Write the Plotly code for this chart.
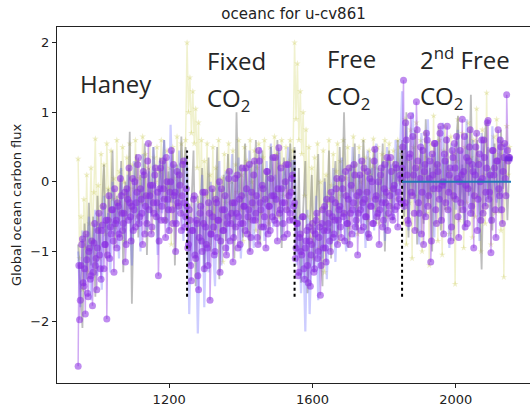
import plotly.graph_objects as go

# ---------------- data ----------------
seg_starts = [946, 1250, 1550, 1850]
seg_ends = [1250, 1550, 1850, 2151]

# purple series, first sampling (years 946, 950, ...)
p_h = [-2.65, -1.98, -1.2, -0.82, -1.5, -1.9, -1.12, -1.65, -0.95, -1.35,
       -1.78, -0.88, -1.2, -1.55, -0.7, -1.05, -1.4, -0.62, -1.25, -0.9,
       -1.97, -0.55, -1.1, -0.75, -0.4, -1.3, -0.6, -0.95, -0.35, -0.8,
       -0.2, -0.7, -0.45, -1.15, -0.1, -0.55, -0.3, -0.85, 0.05, -0.4,
       -0.65, -0.15, 0.35, -0.5, -0.25, -0.9, 0.1, -0.35, -0.6, 0.55,
       -0.2, -0.75, -0.05, -0.45, 0.2, -0.3, -1.35, -0.1, -0.55, 0.3,
       -0.25, -0.8, 0.0, -0.4, -0.15, 0.45, -0.6, -0.2, -1.0, 0.15,
       -0.35, -0.05, -0.7, 0.25, -0.3, -0.5]
p_f = [-0.35, -0.9, -0.55, -1.42, -0.7, -0.2, -1.1, -0.6, -1.55, -0.45,
       -0.85, -0.15, -1.25, -0.65, -0.95, -0.3, -1.7, -0.75, -0.5, -1.05,
       -0.25, -0.8, -0.55, -1.3, -0.1, -0.7, -0.4, -0.95, -0.6, 0.05,
       -0.85, -0.45, -1.15, -0.3, -0.65, 0.1, -0.5, -0.9, -0.2, -0.6,
       -0.35, 0.2, -0.75, -0.4, -1.0, -0.15, -0.55, 0.3, -0.45, -0.8,
       0.45, -0.3, -0.65, -0.1, -0.5, -0.95, 0.15, -0.35, -0.7, -0.2,
       0.35, -0.55, -0.25, -0.85, 0.49, -0.4, -0.1, -0.6, -0.3, 0.25,
       -0.75, -0.2, -0.45, 0.05, -0.55]
p_r = [-0.3, -0.95, -0.6, -1.3, -0.75, -1.05, -0.5, -1.4, -0.85, -1.2,
       -0.65, -1.5, -0.9, -0.7, -1.25, -0.55, -1.1, -0.8, -1.63, -0.6,
       -0.95, -0.35, -1.15, -0.7, -0.45, -1.0, -0.25, -0.8, -0.55, -0.1,
       -0.9, -0.4, -0.65, 0.05, -0.5, -0.85, -0.2, -0.6, 0.2, -0.45,
       -0.75, -0.3, 0.1, -0.55, -1.05, -0.15, -0.4, 0.3, -0.65, -0.25,
       -0.5, 0.15, -0.8, -0.35, 0.0, -0.6, 0.47, -0.2, -0.45, -0.9,
       0.1, -0.3, -0.55, 0.25, -0.15, -0.7, -0.35, 0.35, -0.5, -0.1,
       -0.4, 0.2, -0.65, -0.25, 0.05]
p_s = [0.2, 1.46, -0.3, 0.6, -0.55, 0.35, 0.95, -0.2, 0.1, -0.7,
       1.15, 0.3, -0.45, 0.5, -0.15, -0.9, 0.25, 0.7, -0.35, 0.05,
       -1.15, 0.4, -0.1, 0.55, -0.6, 0.15, -0.25, 0.8, -0.05, -0.75,
       0.3, 0.6, -0.4, 0.1, -0.85, 0.45, -0.2, 0.2, 0.65, -0.5,
       0.0, -0.3, 0.9, 0.15, -0.65, 0.35, -0.1, 0.5, -0.45, 0.25,
       -0.95, 0.1, 0.7, -0.25, 0.4, -0.55, 0.05, 0.6, -0.35, 0.2,
       0.88, -0.15, -1.02, 0.45, 0.1, -0.4, 0.3, 0.75, -0.2, 0.5,
       -0.6, 0.35, 0.05, 1.25, 0.3, 0.35]

# purple series, second sampling (years 948, 952, ...)
p2_h = [-1.2, -1.7, -0.9, -1.45, -1.25, -0.75, -1.6, -1.0, -1.4, -0.85,
        -1.3, -0.6, -1.1, -0.95, -0.45, -1.25, -0.7, -0.35, -0.9, -0.55,
        -1.05, -0.2, -0.65, -0.4, -0.85, -0.1, -0.55, -0.3, -0.75, 0.05,
        -0.45, -0.6, -0.15, -0.9, -0.25, 0.2, -0.5, -0.35, -0.7, 0.0,
        -0.3, 0.25, -0.6, -0.1, -0.45, 0.15, -0.75, -0.2, 0.3, -0.4,
        -0.05, -0.65, -0.3, 0.1, -0.5, -0.15, -0.85, 0.2, -0.35, -0.1,
        -0.55, 0.35, -0.25, -0.7, 0.0, -0.4, 0.25, -0.15, -0.6, -0.3,
        0.1, -0.45, -0.2, 0.3, -0.65, -0.1]
p2_f = [-0.95, -0.4, -1.2, -0.7, -0.25, -1.05, -0.55, -1.35, -0.8, -0.35,
        -1.0, -0.6, -0.15, -0.9, -1.2, -0.45, -0.75, -0.1, -0.65, -1.0,
        -0.3, -0.55, 0.0, -0.85, -0.4, -0.7, -0.2, -1.05, -0.5, 0.15,
        -0.6, -0.3, -0.8, 0.05, -0.45, -0.95, -0.25, -0.6, 0.2, -0.35,
        -0.7, -0.1, -0.5, 0.25, -0.8, -0.3, 0.1, -0.55, -0.2, -0.9,
        0.3, -0.4, -0.05, -0.65, -0.25, 0.15, -0.75, -0.35, 0.05, -0.5,
        -0.2, 0.35, -0.6, -0.1, -0.45, 0.2, -0.3, -0.8, 0.0, -0.4,
        0.25, -0.55, -0.15, 0.1, -0.35]
p2_r = [-1.1, -0.6, -1.35, -0.8, -1.0, -0.5, -1.25, -0.95, -0.7, -1.45,
        -0.85, -1.05, -0.6, -1.3, -0.75, -0.45, -1.0, -0.65, -1.2, -0.4,
        -0.7, -0.95, -0.25, -0.6, -0.85, -0.15, -0.5, -0.75, -0.3, 0.05,
        -0.55, -0.35, -0.8, -0.1, -0.45, 0.15, -0.6, -0.25, -0.9, -0.05,
        -0.4, 0.25, -0.65, -0.2, -0.45, 0.1, -0.7, -0.3, 0.2, -0.5,
        -0.15, -0.75, 0.05, -0.35, -0.6, 0.3, -0.25, -0.5, 0.0, -0.4,
        0.2, -0.65, -0.1, -0.3, 0.35, -0.45, -0.2, 0.15, -0.55, -0.05,
        0.25, -0.35, -0.15, 0.1, -0.3]
p2_s = [0.5, -0.35, 0.85, 0.1, -0.6, 0.4, -0.15, 0.65, -0.45, 0.2,
        0.75, -0.3, 0.05, -0.75, 0.45, 0.15, -0.5, 0.6, -0.2, 0.3,
        -0.85, 0.1, 0.55, -0.4, 0.25, -0.1, 0.7, -0.55, 0.0, 0.4,
        -0.3, 0.8, -0.15, 0.2, -0.65, 0.35, 0.55, -0.25, 0.05, -0.8,
        0.45, 0.1, -0.4, 0.65, -0.05, -0.6, 0.3, 0.75, -0.35, 0.15,
        -0.2, 0.5, -0.7, 0.25, 0.0, 0.6, -0.45, 0.35, -0.15, 0.85,
        -0.25, 0.1, -0.55, 0.45, 0.2, -0.8, 0.3, -0.1, 0.6, -0.4,
        0.15, 0.55, -0.2, 0.45, 0.35]

# olive series (4-yr sampling)
o_h = [0.33, -1.1, -0.5, -1.55, -0.25, -0.95, 0.1, -1.3, -0.6, 0.2,
       -0.85, -0.15, 0.62, -0.7, -0.05, -1.1, 0.4, -0.35, 0.25, -0.75,
       0.55, -0.1, -0.55, 0.45, -0.25, 0.05, -0.65, 0.6, -0.3, 0.15,
       -0.45, 0.5, 0.0, -0.85, 0.35, -0.2, 0.55, -0.4, 0.25, -0.1,
       0.6, -0.5, 0.3, 0.05, -0.3, 0.65, -0.2, 0.4, -0.6, 0.2,
       0.55, -0.15, -0.7, 0.35, 0.0, 0.5, -0.4, 0.15, 0.6, -0.25,
       0.3, -0.55, 0.45, -0.1, 0.2, -0.9, 0.5, 0.05, -0.35, 0.65,
       0.1, -0.2, 0.55, -0.45, 0.3, 0.6]
o_f = [2.0, 1.0, 1.5, 0.7, 1.3, 0.55, 1.05, 0.2, 0.85, -0.3,
       0.6, -0.6, 0.3, -0.2, 0.55, -0.9, 0.1, -0.45, 0.5, -0.7,
       0.2, -0.25, 0.6, -0.55, 0.05, -1.15, 0.4, -0.3, 0.15, 0.55,
       -0.5, 0.0, 0.45, -0.65, 0.25, -0.15, 0.6, -0.4, 0.1, -0.85,
       0.5, -0.2, 0.3, -0.55, 0.6, 0.0, -0.35, 0.45, -0.7, 0.2,
       0.55, -0.1, -0.45, 0.35, 0.6, -0.25, 0.1, -0.6, 0.5, 0.05,
       -0.3, 0.65, -0.15, 0.4, -0.5, 0.25, 0.6, -0.2, 0.0, 0.5,
       -0.4, 0.3, 0.6, -0.1, 0.45]
o_r = [2.0, 0.9, 1.7, 0.6, 1.3, 0.4, 1.0, -0.2, 0.75, -0.5,
       0.5, -0.8, 0.2, -1.1, 0.35, -0.6, 0.55, -0.95, 0.0, -0.4,
       0.45, -1.3, 0.1, -0.3, 0.6, -0.7, -0.05, 0.4, -0.55, 0.15,
       0.55, -0.85, 0.3, -0.2, 0.6, -0.45, 0.05, 0.5, -0.65, 0.2,
       -0.1, 0.65, -0.35, 0.25, -0.75, 0.5, 0.0, -0.3, 0.6, -0.15,
       0.35, -0.55, 0.45, 0.1, -0.25, 0.62, -0.4, 0.2, 0.5, -0.6,
       0.05, 0.4, -0.2, 0.6, -0.5, 0.3, 0.55, -0.1, -0.35, 0.45,
       0.15, -0.25, 0.6, 0.0, 0.5]
o_s = [0.4, -0.6, 0.9, -0.9, 0.3, -0.3, 0.75, -1.1, 0.5, -0.2,
       0.85, -0.7, 0.2, 0.6, -1.0, 0.1, 0.7, -0.45, 0.35, -1.2,
       0.55, -0.15, 0.95, -0.6, 0.25, -0.85, 0.6, 0.0, -1.05, 0.45,
       0.8, -0.4, 0.15, -0.75, 0.65, -0.25, 0.4, -1.47, 0.3, 0.9,
       -0.55, 0.1, 0.7, -0.95, 0.5, -0.3, 0.85, -0.1, 0.35, -0.8,
       0.6, -0.5, 1.05, -0.2, 0.3, -1.0, 0.75, 0.1, -0.6, 1.28,
       -0.35, 0.45, -0.9, 0.2, 0.65, -0.45, 0.9, -0.15, 0.4, -0.7,
       0.55, -1.37, 0.3, 0.8, 0.1, 0.5]

# grey series (6-yr sampling)
g_h = [-0.9, -1.6, -2.1, -0.6, -1.4, -0.3, -1.2, -0.5, -1.65, -0.2,
       -1.0, -0.4, 0.25, -1.1, -0.1, -0.7, 0.45, -0.95, -0.2, -0.6,
       0.3, -1.3, 0.0, -0.5, 0.72, -1.75, -0.15, 0.4, -0.8, 0.1,
       -0.35, 0.55, -1.05, 0.2, -0.45, 0.5, -0.25, -0.9, 0.35, -0.1,
       0.6, -0.6, 0.15, -0.3, 0.45, -1.2, 0.25, -0.4, 0.65, -0.05, 0.5]
g_f = [0.3, -1.2, -0.4, 0.45, -1.5, -0.2, -0.9, 0.2, -1.3, -0.5,
       0.35, -1.0, -0.1, -0.7, 0.5, -1.4, -0.3, 0.1, -0.85, 0.4,
       -0.6, 0.0, -1.1, 1.0, -0.45, 0.25, -0.8, 0.55, -0.25, -1.0,
       0.3, -0.5, 0.6, -0.15, -0.9, 0.45, -0.35, 0.2, -0.7, 0.5,
       0.05, -0.55, 0.6, -0.2, -0.95, 0.35, 0.0, -0.4, 0.55, -0.1]
g_r = [0.5, -1.0, 0.2, -1.45, -0.4, 0.3, -1.6, -0.6, 0.1, -1.25,
       -0.3, 0.4, -0.9, -1.5, 0.05, -0.7, 0.45, -1.1, -0.2, 0.3,
       -0.8, 0.5, -0.5, 1.0, -0.35, -0.95, 0.25, -0.15, 0.55, -0.7,
       0.1, -0.4, 0.6, -0.25, -0.85, 0.35, 0.0, 0.5, -0.6, 0.2,
       -0.3, 0.55, -1.0, 0.15, 0.45, -0.45, 0.3, -0.2, 0.6, -0.05]
g_s = [0.6, -0.5, 1.0, -0.8, 0.3, -0.2, 0.75, -0.9, 0.15, 0.5,
       -0.6, 0.9, -0.3, 0.2, -1.0, 0.55, -0.1, 0.8, -0.7, 0.35,
       -0.4, 0.65, -0.15, 0.1, -0.85, 0.5, 0.95, -0.45, 0.25, -0.6,
       0.7, -0.2, 1.25, -0.5, 0.05, 0.6, -0.35, -1.26, 0.4, 0.85,
       -0.25, 0.2, -0.7, 0.55, 0.1, -0.45, 0.75, -0.1, 0.35, -0.55, 0.4]

# blue series (6-yr sampling)
b_h = [-1.0, -1.8, -0.7, -1.5, -1.2, -0.5, -1.7, -0.9, -0.4, -1.35,
       -0.6, -1.55, -0.2, -0.95, -0.45, -1.3, 0.0, -0.75, -0.3, -1.1,
       0.2, -0.55, -0.9, 0.1, -0.4, -1.2, 0.3, -0.6, -0.15, -1.0,
       0.4, -0.35, -0.7, 0.15, -0.5, 0.5, -0.25, -1.05, 0.3, -0.45,
       0.6, -0.2, -0.75, 0.82, -0.3, 0.25, -0.6, 0.45, -0.1, -0.85, 0.35]
b_f = [0.2, -1.9, -0.6, -1.1, -0.3, -2.18, -0.8, 0.1, -1.8, -0.5,
       -1.3, 0.0, -0.9, -1.5, -0.2, 0.3, -1.2, -0.6, 0.15, -1.0,
       -0.4, 0.4, -0.8, -0.15, 0.35, -1.1, -0.5, 0.2, -0.7, 0.45,
       -0.3, -0.95, 0.25, -0.55, 0.5, -0.2, -0.85, 0.3, -0.4, 0.55,
       -0.65, 0.1, -0.3, 0.45, -0.8, 0.2, -0.1, 0.5, -0.45, 0.3]
b_r = [0.3, -1.2, -0.5, -1.6, -0.8, -2.15, -0.4, -1.9, -0.9, -1.3,
       -0.2, -1.7, -0.6, -1.1, 0.0, -1.4, -0.5, -0.9, 0.2, -1.15,
       -0.3, -0.75, 0.35, -0.55, -1.0, 0.15, -0.4, 0.5, -0.8, -0.2,
       0.4, -0.6, 0.1, -0.95, 0.45, -0.3, 0.2, -0.7, 0.55, -0.15,
       -0.5, 0.3, -0.85, 0.5, -0.1, 0.25, -0.55, 0.6, -0.3, 0.4]
b_s = [1.3, -0.4, 0.8, -0.7, 0.5, 1.0, -0.3, 0.2, -0.9, 0.7,
       0.1, -0.5, 0.9, -0.2, 0.4, -0.8, 0.6, 0.0, -0.6, 0.85,
       -0.1, 0.3, -0.95, 0.55, 0.15, -0.4, 0.75, -0.25, 0.45, -0.7,
       0.9, 0.05, -0.5, 0.6, -0.15, 0.35, -0.85, 0.7, 0.2, -0.35,
       0.5, -0.6, 0.8, 0.0, -0.3, 0.65, -0.45, 0.25, 0.55, 0.3, 0.4]

# experiment boundary markers
vline_years = [1250, 1550, 1850]
vline_lo, vline_hi = -1.65, 0.45
hline_x = [1850, 2154]
hline_y = 0.0
end_mark_x = [2136, 2158]
end_mark_y = 0.33

labels = [("Haney", 945, 1.41), ("Fixed", 1301, 1.745), ("CO<sub>2</sub>", 1301, 1.19),
          ("Free", 1634, 1.776), ("CO<sub>2</sub>", 1634, 1.22),
          ("2<sup>nd</sup> Free", 1895, 1.776), ("CO<sub>2</sub>", 1895, 1.22)]


def years(step, offset=0):
    out = []
    for s, e in zip(seg_starts, seg_ends):
        out += list(range(s + offset, e, step))
    return out


x4 = years(4)
x4b = years(4, 2)
x6 = years(6)
pts = sorted(list(zip(x4, p_h + p_f + p_r + p_s)) + list(zip(x4b, p2_h + p2_f + p2_r + p2_s)))
purple_x = [p[0] for p in pts]
purple_y = [p[1] for p in pts]
olive = o_h + o_f + o_r + o_s
grey = g_h + g_f + g_r + g_s
blue = b_h + b_f + b_r + b_s

fig = go.Figure()
fig.add_trace(go.Scatter(x=x4, y=olive, mode="lines+markers",
                         line=dict(color="rgba(188,189,34,0.22)", width=1.5),
                         marker=dict(symbol="star", size=5, color="rgba(188,189,34,0.25)")))
fig.add_trace(go.Scatter(x=x6, y=grey, mode="lines",
                         line=dict(color="rgba(110,110,110,0.45)", width=1.8)))
fig.add_trace(go.Scatter(x=x6, y=blue, mode="lines",
                         line=dict(color="rgba(90,90,255,0.3)", width=2.2)))
fig.add_trace(go.Scatter(x=purple_x, y=purple_y, mode="lines+markers",
                         line=dict(color="rgba(138,43,226,0.4)", width=1.5),
                         marker=dict(symbol="circle", size=7, color="rgba(138,43,226,0.55)",
                                     line=dict(width=0))))

vx, vy = [], []
for v in vline_years:
    vx += [v, v, None]
    vy += [vline_lo, vline_hi, None]
fig.add_trace(go.Scatter(x=vx, y=vy, mode="lines",
                         line=dict(color="black", width=2, dash="dot")))
fig.add_trace(go.Scatter(x=hline_x, y=[hline_y, hline_y], mode="lines",
                         line=dict(color="#1f77b4", width=2)))
fig.add_trace(go.Scatter(x=end_mark_x, y=[end_mark_y, end_mark_y], mode="lines",
                         line=dict(color="rgba(110,40,220,0.8)", width=5)))

for txt, xv, yv in labels:
    fig.add_annotation(x=xv, y=yv, xref="x", yref="y", text=txt, showarrow=False,
                       xanchor="left", yanchor="middle",
                       font=dict(family="Open Sans", size=24, color="#262626"))

fig.add_annotation(x=(16 - 57) / 473, y=0.5, xref="paper", yref="paper",
                   xanchor="center", yanchor="middle",
                   text="Global ocean carbon flux", textangle=-90, showarrow=False,
                   font=dict(family="DejaVu Sans", size=13, color="#222"))

fig.update_layout(
    width=530, height=410,
    margin=dict(l=57, r=0, t=27, b=27),
    paper_bgcolor="white", plot_bgcolor="white",
    showlegend=False,
    title=dict(text="oceanc for u-cv861", x=0.5, xref="paper", y=1 - 14 / 410,
               yref="container", yanchor="middle", xanchor="center",
               font=dict(family="DejaVu Sans", size=15, color="#222")),
    font=dict(family="DejaVu Sans", size=13, color="#222"),
)
fig.update_xaxes(range=[887, 2207], tickvals=[1200, 1600, 2000], showgrid=False,
                 zeroline=False, showline=True, linecolor="#222", linewidth=1, mirror=True,
                 ticks="outside", ticklen=4, tickcolor="#222")
fig.update_yaxes(range=[-2.89, 2.225], tickvals=[-2, -1, 0, 1, 2],
                 ticktext=["\u22122", "\u22121", "0", "1", "2"], showgrid=False,
                 zeroline=False, showline=True, linecolor="#222", linewidth=1,
                 ticks="outside", ticklen=4, tickcolor="#222")

fig.write_html("out.html")
